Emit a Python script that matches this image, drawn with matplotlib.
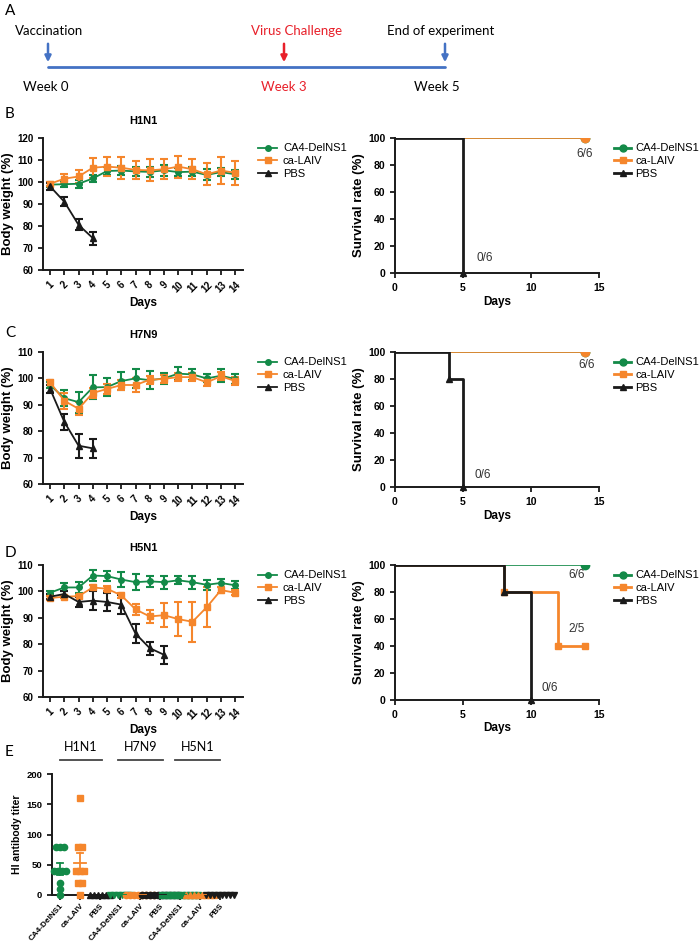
import numpy as np
import matplotlib
matplotlib.use("Agg")
import matplotlib.pyplot as plt
from matplotlib.lines import Line2D

plt.rcParams['font.family'] = ['Liberation Sans', 'DejaVu Sans']

GREEN = '#138a48'
ORANGE = '#f5862c'
BLACK = '#1a1a1a'
BLUE = '#4472c4'
RED = '#e8202a'

groups = ['CA4-DelNS1', 'ca-LAIV', 'PBS']
days = np.arange(1, 15)

# body weight (%), mean and error
h1n1_ca4 = [98.8, 99.0, 99.2, 101.6, 105.0, 105.2, 104.8, 104.6, 105.3, 104.5, 104.7, 103.2, 104.5, 103.5]
h1n1_ca4_err = [1.0, 1.2, 1.8, 1.5, 2.0, 2.0, 2.0, 2.2, 2.5, 2.0, 2.0, 2.5, 2.0, 2.0]
h1n1_laiv = [99.2, 101.5, 102.5, 106.5, 107.0, 106.5, 105.5, 105.3, 105.8, 107.0, 105.8, 103.5, 105.2, 104.2]
h1n1_laiv_err = [1.0, 2.0, 3.0, 4.5, 4.5, 5.0, 4.0, 5.0, 4.5, 5.0, 4.5, 5.0, 6.0, 5.5]
h1n1_pbs = [98.0, 91.0, 80.5, 74.5]
h1n1_pbs_err = [1.5, 2.0, 2.5, 3.0]

h7n9_ca4 = [97.5, 92.5, 91.0, 96.6, 96.7, 99.0, 100.0, 99.3, 100.0, 101.8, 101.5, 100.0, 101.0, 99.8]
h7n9_ca4_err = [1.0, 3.0, 4.0, 4.5, 3.5, 3.5, 3.5, 3.5, 2.0, 2.5, 2.0, 1.5, 2.5, 2.0]
h7n9_laiv = [98.5, 91.5, 88.5, 94.5, 96.0, 97.5, 97.5, 99.5, 99.8, 100.5, 100.5, 98.5, 100.8, 99.0]
h7n9_laiv_err = [1.0, 3.0, 2.5, 2.0, 2.0, 2.0, 2.5, 1.5, 1.5, 1.5, 1.5, 1.5, 1.5, 1.5]
h7n9_pbs = [96.0, 83.5, 74.5, 73.5]
h7n9_pbs_err = [1.5, 3.0, 4.5, 3.5]

h5n1_ca4 = [99.5, 101.5, 101.5, 106.0, 105.8, 104.5, 103.5, 103.8, 103.5, 104.2, 103.5, 102.5, 103.2, 102.3]
h5n1_ca4_err = [0.5, 1.5, 2.0, 2.0, 2.0, 3.0, 3.0, 2.0, 2.5, 1.5, 2.5, 2.0, 1.5, 1.5]
h5n1_laiv = [97.5, 98.0, 98.2, 101.5, 101.0, 98.5, 93.2, 90.5, 91.0, 89.5, 88.5, 94.0, 100.5, 99.5]
h5n1_laiv_err = [0.8, 0.5, 0.5, 0.8, 1.0, 1.0, 2.0, 2.5, 4.5, 6.5, 7.5, 7.5, 1.0, 1.0]
h5n1_pbs = [98.0, 99.0, 96.0, 96.5, 96.0, 95.0, 84.0, 78.5, 76.0]
h5n1_pbs_err = [1.0, 1.0, 2.0, 3.5, 3.5, 3.5, 3.5, 2.5, 3.5]

# survival (%): event times and values
b_ca4_t, b_ca4_s = [0, 14], [100, 100]
b_laiv_t, b_laiv_s = [0, 14], [100, 100]
b_pbs_t, b_pbs_s = [0, 5], [100, 0]
c_ca4_t, c_ca4_s = [0, 14], [100, 100]
c_laiv_t, c_laiv_s = [0, 14], [100, 100]
c_pbs_t, c_pbs_s = [0, 4, 5], [100, 80, 0]
d_ca4_t, d_ca4_s = [0, 14], [100, 100]
d_laiv_t, d_laiv_s = [0, 8, 12, 14], [100, 80, 40, 40]
d_pbs_t, d_pbs_s = [0, 8, 10], [100, 80, 0]

# HI antibody titers
hi_labels = ['CA4-DelNS1', 'ca-LAIV', 'PBS'] * 3
hi_viruses = ['H1N1', 'H7N9', 'H5N1']
hi_h1n1_ca4 = [80, 80, 80, 40, 40, 40, 40, 20, 10, 0]
hi_h1n1_laiv = [160, 80, 80, 40, 40, 40, 20, 20, 0]
hi_h1n1_pbs = [0, 0, 0, 0, 0, 0]
hi_h7n9_ca4 = [0, 0, 0, 0, 0, 0]
hi_h7n9_laiv = [0, 0, 0, 0, 0, 0, 0, 0]
hi_h7n9_pbs = [0, 0, 0, 0, 0, 0, 0, 0, 0, 0]
hi_h5n1_ca4 = [0, 0, 0, 0, 0, 0, 0, 0, 0, 0]
hi_h5n1_laiv = [0, 0, 0, 0, 0, 0, 0, 0]
hi_h5n1_pbs = [0, 0, 0, 0, 0, 0, 0, 0]

W, H = 700, 948
fig = plt.figure(figsize=(7.0, 9.48), dpi=100)


def px_axes(l, t, r, b):
    return fig.add_axes([l / W, 1 - b / H, (r - l) / W, (b - t) / H])


def style(ax, size=6.8):
    for s in ['top', 'right']:
        ax.spines[s].set_visible(False)
    for s in ['left', 'bottom']:
        ax.spines[s].set_linewidth(1.4)
        ax.spines[s].set_color(BLACK)
    ax.tick_params(width=1.3, length=3.5, labelsize=size, color=BLACK)
    for lab in ax.get_xticklabels() + ax.get_yticklabels():
        lab.set_fontweight('bold')


# overlay for panel letters, timeline and notes (kept on top)
ov = fig.add_axes([0, 0, 1, 1])
ov.set_xlim(0, W)
ov.set_ylim(H, 0)
ov.axis('off')
ov.set_zorder(10)
ov.patch.set_alpha(0)
cal = ['Lato', 'DejaVu Sans']
for letter, y in [('A', 11), ('B', 114), ('C', 333), ('D', 553), ('E', 752)]:
    ov.text(5, y, letter, fontsize=11, family=cal, va='center', ha='left')

ov.plot([48, 445], [67, 67], color=BLUE, lw=2, solid_capstyle='round')
for x, c in [(48, BLUE), (284, RED), (445, BLUE)]:
    ov.annotate('', xy=(x, 65), xytext=(x, 41),
                arrowprops=dict(arrowstyle='-|>', color=c, lw=1.8, mutation_scale=9))
ov.text(15, 31, 'Vaccination', fontsize=9.5, family=cal, va='center', ha='left')
ov.text(297, 31, 'Virus Challenge', fontsize=9.5, family=cal, va='center', ha='center', color=RED)
ov.text(441, 31, 'End of experiment', fontsize=9.5, family=cal, va='center', ha='center')
ov.text(46, 87, 'Week 0', fontsize=9.5, family=cal, va='center', ha='center')
ov.text(284, 87, 'Week 3', fontsize=9.5, family=cal, va='center', ha='center', color=RED)
ov.text(437, 87, 'Week 5', fontsize=9.5, family=cal, va='center', ha='center')

weight_panels = [
    ('H1N1', (43, 138, 243, 270), (60, 120), [60, 70, 80, 90, 100, 110, 120],
     h1n1_ca4, h1n1_ca4_err, h1n1_laiv, h1n1_laiv_err, h1n1_pbs, h1n1_pbs_err),
    ('H7N9', (43, 352, 243, 484), (60, 110), [60, 70, 80, 90, 100, 110],
     h7n9_ca4, h7n9_ca4_err, h7n9_laiv, h7n9_laiv_err, h7n9_pbs, h7n9_pbs_err),
    ('H5N1', (43, 565, 243, 697), (60, 110), [60, 70, 80, 90, 100, 110],
     h5n1_ca4, h5n1_ca4_err, h5n1_laiv, h5n1_laiv_err, h5n1_pbs, h5n1_pbs_err),
]

for title, box, ylim, yt, ca4, ca4e, laiv, laive, pbs, pbse in weight_panels:
    ax = px_axes(*box)
    kw = dict(capsize=2.8, elinewidth=1.5, capthick=1.5, lw=1.3, ms=4)
    ax.errorbar(days, ca4, yerr=ca4e, color=GREEN, marker='o', **kw)
    ax.errorbar(days, laiv, yerr=laive, color=ORANGE, marker='s', **kw)
    ax.errorbar(days[:len(pbs)], pbs, yerr=pbse, color=BLACK, marker='^', **kw)
    ax.set_xlim(0.5, 14.55)
    ax.set_ylim(*ylim)
    ax.set_yticks(yt)
    ax.set_xticks(days)
    ax.set_xticklabels([str(d) for d in days], rotation=45, ha='center')
    ax.set_ylabel('Body weight (%)', fontsize=9.5, fontweight='bold', labelpad=2)
    ax.set_xlabel('Days', fontsize=8.5, fontweight='bold', labelpad=2)
    ax.set_title(title, fontsize=8, fontweight='bold', pad=10)
    style(ax, 7)
    handles = [Line2D([], [], color=GREEN, marker='o', ms=4, lw=1.3),
               Line2D([], [], color=ORANGE, marker='s', ms=4, lw=1.3),
               Line2D([], [], color=BLACK, marker='^', ms=4, lw=1.3)]
    fig.legend(handles, groups, loc='upper left', frameon=False, fontsize=8,
               bbox_to_anchor=(254 / W, 1 - (box[1] + 1) / H), handlelength=1.7,
               labelspacing=0.25, handletextpad=0.5, borderaxespad=0)

surv_panels = [
    ((395, 138, 599, 273), b_ca4_t, b_ca4_s, b_laiv_t, b_laiv_s, b_pbs_t, b_pbs_s, 1.2,
     [(585, 154, '6/6'), (485, 258, '0/6')]),
    ((395, 352, 599, 487), c_ca4_t, c_ca4_s, c_laiv_t, c_laiv_s, c_pbs_t, c_pbs_s, 1.2,
     [(587, 365, '6/6'), (483, 475, '0/6')]),
    ((395, 565, 599, 700), d_ca4_t, d_ca4_s, d_laiv_t, d_laiv_s, d_pbs_t, d_pbs_s, 2.0,
     [(577, 575, '6/6'), (577, 629, '2/5'), (550, 688, '0/6')]),
]

for box, gt, gs, ot, os_, bt, bs, olw, notes in surv_panels:
    ax = px_axes(*box)
    ax.step(gt, gs, where='post', color=GREEN, lw=1.2)
    ax.plot(gt[1:], gs[1:], 'o', color=GREEN, ms=6)
    ax.step(ot, os_, where='post', color=ORANGE, lw=olw)
    if olw > 1.5:
        ax.plot(ot[1:], os_[1:], 's', color=ORANGE, ms=4.5)
    else:
        ax.plot(ot[1:], os_[1:], 'o', color=ORANGE, ms=6)
    ax.step(bt, bs, where='post', color=BLACK, lw=2)
    ax.plot(bt[1:], bs[1:], '^', color=BLACK, ms=4, clip_on=False)
    ax.set_xlim(0, 15)
    ax.set_ylim(0, 100)
    ax.set_xticks([0, 5, 10, 15])
    ax.set_yticks([0, 20, 40, 60, 80, 100])
    ax.set_ylabel('Survival rate (%)', fontsize=9.5, fontweight='bold', labelpad=2)
    ax.set_xlabel('Days', fontsize=8.5, fontweight='bold', labelpad=2)
    style(ax, 7.5)
    for x, y, s in notes:
        ov.text(x, y, s, fontsize=8.5, ha='center', va='center', color='#333333')
    handles = [Line2D([], [], color=GREEN, marker='o', ms=5, lw=2),
               Line2D([], [], color=ORANGE, marker='s', ms=4.5, lw=2),
               Line2D([], [], color=BLACK, marker='^', ms=4.5, lw=2)]
    fig.legend(handles, groups, loc='upper left', frameon=False, fontsize=8,
               bbox_to_anchor=(610 / W, 1 - (box[1] + 1) / H), handlelength=1.5,
               labelspacing=0.25, handletextpad=0.4, borderaxespad=0)

# panel E
axe = px_axes(52, 774, 232, 895)
hi_sets = [(hi_h1n1_ca4, GREEN, 'o'), (hi_h1n1_laiv, ORANGE, 's'), (hi_h1n1_pbs, BLACK, '^'),
           (hi_h7n9_ca4, GREEN, 'v'), (hi_h7n9_laiv, ORANGE, 'o'), (hi_h7n9_pbs, BLACK, 'o'),
           (hi_h5n1_ca4, GREEN, 's'), (hi_h5n1_laiv, ORANGE, '^'), (hi_h5n1_pbs, BLACK, 'v')]
for i, (vals, c, m) in enumerate(hi_sets):
    vals = np.array(vals, dtype=float)
    xs = np.zeros(len(vals))
    for v in np.unique(vals):
        idx = np.where(vals == v)[0]
        xs[idx] = (np.arange(len(idx)) - (len(idx) - 1) / 2) * 0.2
    axe.plot(i + xs, vals, m, color=c, ms=4.5, clip_on=False, zorder=3)
    mean = vals.mean()
    sem = vals.std(ddof=1) / np.sqrt(len(vals))
    axe.plot([i - 0.3, i + 0.3], [mean, mean], color=c, lw=1.3, zorder=4)
    if sem > 0:
        axe.plot([i, i], [mean - sem, mean + sem], color=c, lw=1.3, zorder=4)
        for y in [mean - sem, mean + sem]:
            axe.plot([i - 0.15, i + 0.15], [y, y], color=c, lw=1.3, zorder=4)
axe.set_xlim(-0.4, 8.6)
axe.set_ylim(0, 200)
axe.set_yticks([0, 50, 100, 150, 200])
axe.set_xticks(range(9))
axe.set_xticklabels(hi_labels, rotation=48, ha='right', rotation_mode='anchor')
axe.set_ylabel('HI antibody titer', fontsize=7.5, fontweight='bold', labelpad=3)
style(axe, 6.8)
axe.tick_params(axis='x', pad=2)
for lab in axe.get_xticklabels():
    lab.set_fontsize(5.9)

for name, x0, x1 in [('H1N1', 60, 102), ('H7N9', 118, 163), ('H5N1', 175, 220)]:
    ov.text((x0 + x1) / 2, 747, name, fontsize=9, family=cal, ha='center', va='center')
    ov.plot([x0, x1], [760, 760], color='#444444', lw=1.3)

fig.savefig('out.png', dpi=100)
